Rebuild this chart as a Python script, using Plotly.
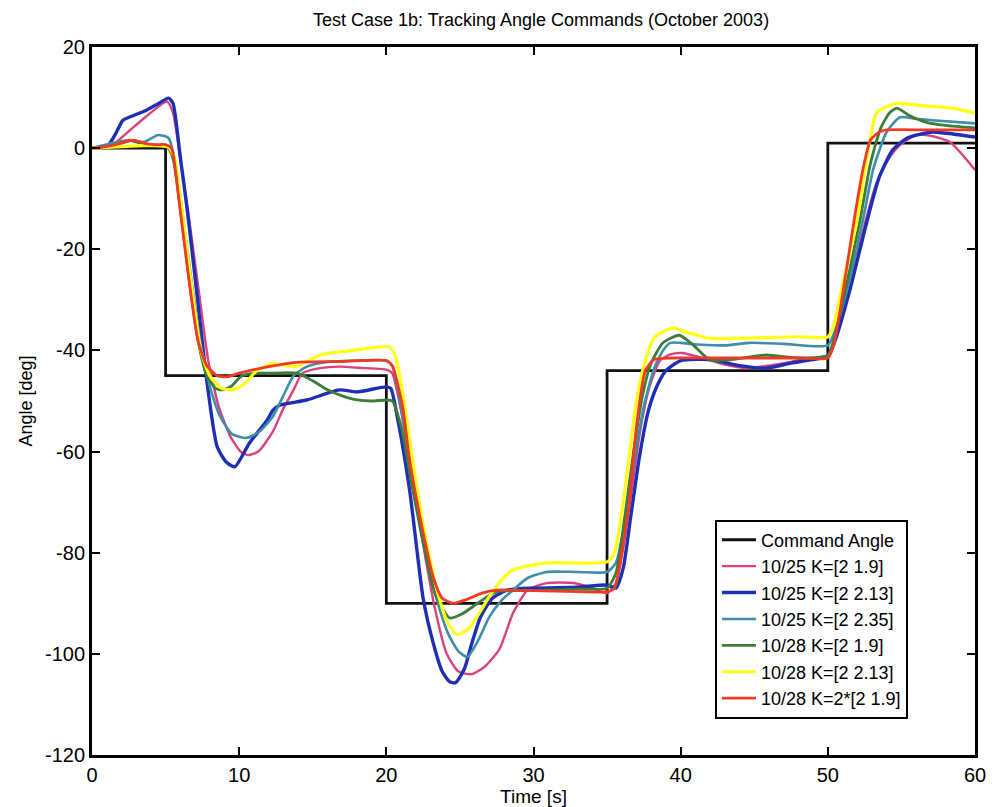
import plotly.graph_objects as go

# ---------------- data ----------------
cmd_t = [0, 5, 5, 20, 20, 35, 35, 50, 50, 60]
cmd_y = [0, 0, -45, -45, -90, -90, -44, -44, 1, 1]

pink_t = [0, 1.2, 3.0, 5.1, 5.5, 6.0, 6.6, 7.2, 7.9, 8.6, 9.4, 10.1, 10.6, 11.3, 12.3, 13.0, 13.7, 14.3, 15.5, 16.8, 18.5, 20.0,
          20.4, 21.0, 21.8, 22.6, 23.3, 24.1, 24.9, 25.8, 26.7, 27.7, 28.6, 29.6, 30.9, 32.7, 34.0, 35.0,
          35.6, 36.1, 36.7, 37.3, 37.9, 38.6, 39.3, 40.1, 41.5, 43.0, 44.5, 46.0, 48.0, 50.0,
          50.5, 51.4, 52.6, 53.3, 54.2, 54.9, 56.0, 57.2, 58.3, 59.2, 60.0]
pink_y = [0, 0.3, 4.6, 9.2, 7, -2, -14, -27, -42, -51, -57, -60, -60.7, -60, -56, -51.5, -47.8, -44.5, -43.5, -43.2, -43.5, -43.8,
          -44.5, -52, -66, -80, -91, -100, -103.5, -104, -102.5, -99, -92, -87.4, -86, -86, -87, -88,
          -86, -79, -67, -55, -47, -42, -40.8, -40.5, -41.5, -42.8, -43.5, -43, -42, -41,
          -38, -28, -14, -7, -1.8, 0.6, 2.6, 2.3, 1.2, -1.5, -4.3]

blue_t = [0, 1.1, 1.6, 2.1, 2.6, 3.7, 4.5, 5.2, 5.5, 6.0, 6.45, 7.1, 7.8, 8.5, 9.1, 9.7, 10.7, 11.9, 12.3, 12.8, 14.6, 16.8, 18.0, 20.0,
          20.3, 20.8, 21.6, 22.5, 23.2, 23.8, 24.3, 24.7, 25.3, 25.8, 26.4, 27.2, 28.2, 30.0, 33.0, 35.0,
          35.6, 36.1, 36.6, 37.2, 37.8, 38.4, 39.0, 40.0, 42.0, 44.0, 45.8, 47.5, 49.5, 50.0,
          50.5, 51.5, 52.7, 53.5, 54.4, 55.4, 57.1, 58.5, 60.0]
blue_y = [0, 0.6, 2.8, 5.5, 6.2, 7.5, 8.8, 9.9, 8.9, -1.8, -11.7, -28, -46, -59, -62, -63, -58.3, -53.8, -51.8, -50.8, -49.8, -47.8, -48.2, -47.2,
          -47.5, -54, -68, -89, -98, -103.5, -105.5, -105.7, -103, -98, -92.7, -89, -87.4, -87, -86.8, -86.4,
          -87, -83, -73, -61, -52, -47, -44, -42, -41.8, -43, -43.5, -42.5, -41.5, -41,
          -38, -28, -14, -5.7, -0.4, 2, 3.2, 2.8, 2.2]

teal_t = [0, 1.4, 2.6, 3.5, 4.5, 5.2, 5.6, 6.2, 6.8, 7.4, 8.0, 8.7, 9.5, 10.5, 11.4, 12.3, 13.0, 13.7, 14.6, 16.0, 18.0, 20.0,
          20.4, 21.1, 21.8, 22.6, 23.4, 24.2, 24.9, 25.5, 26.3, 27.0, 27.8, 28.6, 29.6, 30.9, 33.0, 35.0,
          35.6, 36.2, 36.9, 37.5, 38.2, 38.8, 39.3, 41.0, 43.0, 44.7, 47.0, 50.0,
          50.5, 51.4, 52.4, 53.1, 54.0, 54.9, 56.0, 57.1, 60.0]
teal_y = [0, 1, 1.6, 1.2, 2.6, 2, -2, -14, -27, -39, -47, -53, -56.5, -57.3, -56, -53, -49, -45, -43.2, -42.3, -42, -42,
          -43, -53, -66, -79, -89, -96, -99.5, -100.6, -97, -92.7, -89.5, -87.4, -85, -83.8, -83.8, -83.8,
          -82, -74, -61, -51, -43.5, -40, -38.5, -38.8, -39, -38.5, -38.7, -39,
          -36, -27, -14, -4, 3.2, 6.1, 5.8, 5.5, 4.9]

green_t = [0, 1.5, 2.6, 3.7, 5.1, 5.5, 6.0, 6.6, 7.2, 7.8, 8.4, 8.9, 9.5, 10.1, 11.0, 12.0, 13.9, 15.0, 16.0, 17.0, 18.0, 19.0, 20.0,
           20.4, 21.0, 21.7, 22.5, 23.3, 24.3, 25.2, 26.2, 27.5, 30.0, 33.0, 35.0,
           35.6, 36.2, 36.8, 37.4, 38.0, 38.8, 39.9, 40.8, 42.0, 43.5, 45.8, 48.0, 50.0,
           50.4, 51.2, 52.2, 52.9, 53.6, 54.2, 54.7, 55.5, 56.7, 58.0, 60.0]
green_y = [0, 0.6, 1.5, 0.6, 0.2, -2, -12, -26, -38, -45, -47.5, -47.8, -47, -45.2, -44.5, -44.5, -44.5, -46, -47.8, -49, -49.8, -50, -49.8,
           -50, -55, -66, -78, -88, -92.9, -92, -90, -87.7, -87.5, -87.2, -87,
           -84, -73, -60, -49, -42.5, -38.5, -37, -38.8, -41.9, -41.8, -40.9, -41.5, -41,
           -38, -28, -14, -3, 4, 7, 7.9, 6.5, 5.1, 4.5, 4]

yellow_t = [0, 2.0, 3.5, 5.2, 5.6, 6.1, 6.8, 7.4, 8.0, 8.8, 9.6, 10.4, 11.2, 12.3, 13.2, 13.9, 15.5, 18.0, 20.2,
            20.6, 21.2, 21.8, 22.6, 23.5, 24.2, 24.8, 25.6, 26.3, 27.0, 27.8, 28.6, 30.9, 35.0,
            35.5, 36.0, 36.5, 37.0, 37.6, 38.2, 39.0, 39.6, 40.5, 42.0, 45.0, 48.0, 50.0,
            50.4, 51.0, 52.0, 52.6, 53.3, 54.2, 54.9, 56.0, 58.5, 60.0]
yellow_y = [0, 0.3, 0.5, 0.2, -2, -12, -28, -40, -45, -47.5, -47.8, -46.5, -44, -42.6, -43, -43.2, -40.9, -39.9, -39.3,
            -41, -50, -62, -76, -88, -94, -96.2, -95, -92, -88.7, -85.5, -83.4, -82, -81.8,
            -80, -72, -61, -50, -42, -37.5, -36, -35.6, -36.5, -37.6, -37.5, -37.3, -37.3,
            -35, -27, -14, -3, 6.9, 8.5, 8.9, 8.5, 7.9, 6.9]

red_t = [0, 1.0, 2.0, 2.8, 3.5, 4.3, 5.0, 5.4, 5.9, 6.5, 7.2, 7.8, 8.5, 9.2, 10.0, 12.0, 14.1, 17.0, 20.0,
         20.4, 21.1, 21.6, 22.5, 23.2, 23.8, 24.5, 25.5, 26.5, 27.5, 30.0, 33.0, 35.0,
         35.5, 36.0, 36.5, 37.0, 37.6, 38.2, 39.5, 42.0, 45.0, 48.0, 50.0,
         50.4, 51.0, 51.8, 52.4, 52.9, 53.5, 54.0, 57.0, 60.0]
red_y = [0, 0.3, 1, 1.6, 1, 0.7, 0.7, 0, -10, -24, -38, -43, -45, -45.2, -44.5, -43.2, -42.3, -42.2, -42,
         -43, -51, -62, -76, -85, -89, -90, -89.2, -88, -87.4, -87.5, -87.7, -87.7,
         -87, -80, -70, -55, -44, -41.8, -41.5, -41.5, -41.5, -41.5, -41.5,
         -39, -29, -14, -4, 1.6, 3.2, 3.6, 3.6, 3.6]

x_ticks = [0, 10, 20, 30, 40, 50, 60]
y_ticks = [-120, -100, -80, -60, -40, -20, 0, 20]

series = [
    ("10/25 K=[2 1.9]", pink_t, pink_y, "#d9417f", 2.4),
    ("10/25 K=[2 2.13]", blue_t, blue_y, "#1f2fb5", 3.4),
    ("10/25 K=[2 2.35]", teal_t, teal_y, "#3d8ea8", 2.6),
    ("10/28 K=[2 1.9]", green_t, green_y, "#3c7d38", 2.8),
    ("10/28 K=[2 2.13]", yellow_t, yellow_y, "#ffff14", 3.2),
    ("10/28 K=2*[2 1.9]", red_t, red_y, "#f03a24", 2.8),
]

fig = go.Figure()
fig.add_trace(go.Scatter(x=cmd_t, y=cmd_y, mode="lines", name="Command Angle",
                         line=dict(color="#111111", width=2.8)))
for name, t, y, c, w in series:
    fig.add_trace(go.Scatter(x=t, y=y, mode="lines", name=name,
                             line=dict(color=c, width=w, shape="spline", smoothing=0.6)))

font_family = "Liberation Sans, Arial, sans-serif"
fig.update_layout(
    width=1001, height=807,
    margin=dict(l=84, r=34, t=39, b=60),
    paper_bgcolor="white", plot_bgcolor="white",
    font=dict(family=font_family, color="black", size=16),
    title=dict(text="Test Case 1b: Tracking Angle Commands (October 2003)",
               x=0.5325, xanchor="center", y=0.985, yanchor="middle",
               font=dict(size=18, family=font_family)),
    showlegend=True,
    legend=dict(x=0.7055, y=0.192, xanchor="left", yanchor="middle",
                bgcolor="white", bordercolor="black", borderwidth=2,
                font=dict(size=18, family=font_family), tracegroupgap=0,
                itemwidth=34),
)
fig.update_xaxes(range=[0, 60], tickvals=x_ticks, ticktext=[str(v) for v in x_ticks],
                 showgrid=False, zeroline=False, showline=True, linecolor="black", linewidth=3,
                 mirror="ticks", ticks="inside", ticklen=8, tickwidth=2, tickcolor="black",
                 tickfont=dict(size=20), title=dict(text="Time [s]", font=dict(size=19), standoff=0))
fig.update_yaxes(range=[-120, 20], tickvals=y_ticks, ticktext=[str(v) for v in y_ticks],
                 showgrid=False, zeroline=False, showline=True, linecolor="black", linewidth=3,
                 mirror="ticks", ticks="inside", ticklen=8, tickwidth=2, tickcolor="black",
                 tickfont=dict(size=20), title=dict(text="Angle [deg]", font=dict(size=18), standoff=8))

fig.write_html("out.html")
